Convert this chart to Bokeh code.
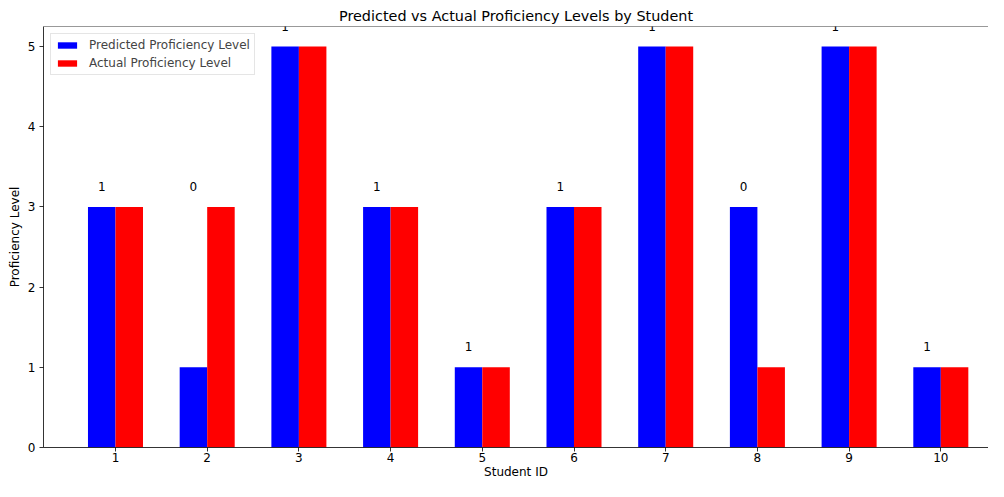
import numpy as np
from bokeh.plotting import figure
from bokeh.models import ColumnDataSource, LabelSet, Range1d, FixedTicker, Legend, Span
from bokeh.core.properties import value
from bokeh.transform import dodge
from bokeh.embed import file_html
from bokeh.resources import INLINE

students = [1, 2, 3, 4, 5, 6, 7, 8, 9, 10]
predicted = [3, 1, 5, 3, 1, 3, 5, 3, 5, 1]
actual = [3, 3, 5, 3, 1, 3, 5, 1, 5, 1]
match = [1, 0, 1, 1, 1, 1, 1, 0, 1, 1]

FONT = "DejaVu Sans"
BAR_W = 0.3
Y_TOP = 5.25

src = ColumnDataSource(dict(
    student=students,
    predicted=predicted,
    actual=actual,
    match=[str(m) for m in match],
    label_y=[max(a, b) + 0.2 for a, b in zip(predicted, actual)],
))

p = figure(width=988, height=481, output_backend="svg", toolbar_location=None,
           x_range=Range1d(0.215, 10.52), y_range=Range1d(0, Y_TOP),
           min_border_left=43, min_border_right=0, min_border_bottom=30, min_border_top=26)

p.title.text = "Predicted vs Actual Proficiency Levels by Student"
p.title.align = "center"
p.title.offset = 12
p.title.text_font = FONT
p.title.text_font_size = "14.4px"
p.title.text_font_style = "normal"
p.title.text_color = "black"
p.title.standoff = 6

r1 = p.vbar(x=dodge("student", -BAR_W / 2), top="predicted", width=BAR_W, source=src,
            fill_color="#0000ff", line_color=None)
r2 = p.vbar(x=dodge("student", BAR_W / 2), top="actual", width=BAR_W, source=src,
            fill_color="#ff0000", line_color=None)

labels = LabelSet(x=dodge("student", -BAR_W / 2), y="label_y", text="match", source=src,
                  text_align="center", text_baseline="bottom",
                  text_font=value(FONT), text_font_size="12px", text_color="black")
p.add_layout(labels)

legend = Legend(items=[("Predicted Proficiency Level", [r1]), ("Actual Proficiency Level", [r2])],
                location="top_left", margin=7, padding=4, spacing=4,
                glyph_width=24, glyph_height=8, label_height=14, label_standoff=10,
                label_text_font=FONT, label_text_font_size="12px",
                border_line_color="#cccccc", background_fill_alpha=0.8)
p.add_layout(legend)

p.xgrid.visible = False
p.ygrid.visible = False
p.outline_line_color = None
p.add_layout(Span(location=Y_TOP, dimension="width", line_color="black", line_width=0.8))

p.xaxis.ticker = FixedTicker(ticks=students)
p.yaxis.ticker = FixedTicker(ticks=[0, 1, 2, 3, 4, 5])
p.xaxis.axis_label = "Student ID"
p.yaxis.axis_label = "Proficiency Level"
for ax in (p.xaxis, p.yaxis):
    ax.axis_label_text_font = FONT
    ax.axis_label_text_font_size = "12px"
    ax.axis_label_text_font_style = "normal"
    ax.axis_label_text_color = "black"
    ax.major_label_text_font = FONT
    ax.major_label_text_font_size = "12px"
    ax.major_label_text_color = "black"
    ax.major_tick_out = 4
    ax.major_tick_in = 0
    ax.minor_tick_line_color = None
    ax.axis_line_color = "black"
    ax.axis_line_width = 0.8
    ax.major_tick_line_width = 0.8
p.xaxis.major_label_standoff = 1
p.xaxis.axis_label_standoff = 0
p.yaxis.major_label_standoff = 4
p.yaxis.axis_label_standoff = 3

open("out.html", "w").write(file_html(p, INLINE))
